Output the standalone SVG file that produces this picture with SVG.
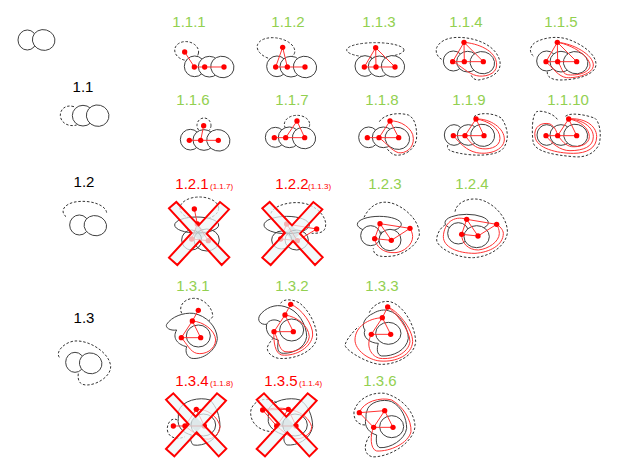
<svg xmlns="http://www.w3.org/2000/svg" width="623" height="467" viewBox="0 0 623 467">
<style>
text{font-family:"Liberation Sans",Arial,sans-serif;font-size:15px;text-anchor:middle}
.g{fill:#92d050}.k{fill:#000}.r{fill:#f00}
.s{font-size:8px;text-anchor:start;fill:#f00}
path,ellipse,line,polygon{vector-effect:non-scaling-stroke}
.b{fill:#fff;stroke:#404040;stroke-width:1}
.bn{fill:none;stroke:#404040;stroke-width:1}
.d{fill:none;stroke:#333;stroke-width:1;stroke-dasharray:2.5 1.8}
.e{fill:none;stroke:#f33;stroke-width:1}
.c{fill:#edf6f8;fill-opacity:.72;stroke:#f00;stroke-width:2;stroke-linejoin:miter}
.m{fill:#8fa3a8;fill-opacity:.2}
circle{fill:#f00}
</style>
<defs>
<g id="x1"><polygon class="c" points="387,130 409,111 476,181 540,111 567,133 500,206 568,277 545,300 479,228 412,300 387,278 455,204"/><polygon class="m" points="476,181 500,206 479,228 455,204"/></g>
</defs>
<g id="a0" transform="scale(.33333)"><ellipse class="b" cx="82" cy="120" rx="28" ry="30"/><ellipse class="b" cx="131" cy="120" rx="34" ry="31" transform="rotate(15 131 120)"/></g>
<g id="n1-1"><text class="k" x="83" y="92">1.1</text><g transform="scale(.33333)"><path class="d" d="M222,320C195,312 180,330 181,347C182,368 205,382 230,375"/><ellipse class="b" cx="249" cy="347" rx="32" ry="31"/><ellipse class="b" cx="293" cy="347" rx="34" ry="32" transform="rotate(15 293 347)"/></g></g>
<g id="n1-1-1"><text class="g" x="189" y="27">1.1.1</text><g transform="scale(.33333)"><ellipse class="d" cx="560" cy="153" rx="36" ry="28" transform="rotate(10 560 153)"/><ellipse class="b" cx="584" cy="199" rx="31" ry="31"/><ellipse class="b" cx="628" cy="200" rx="33" ry="31"/><ellipse class="b" cx="667" cy="201" rx="35" ry="32" transform="rotate(15 667 201)"/><path class="e" d="M554,156L583,201L672,201"/><circle cx="554" cy="156" r="8"/><circle cx="583" cy="201" r="8"/><circle cx="614" cy="201" r="8"/><circle cx="672" cy="201" r="8"/></g></g>
<g id="n1-1-2"><text class="g" x="288" y="27">1.1.2</text><g transform="scale(.33333)"><ellipse class="d" cx="828" cy="147" rx="57" ry="33" transform="rotate(10 828 147)"/><ellipse class="b" cx="831" cy="199" rx="31" ry="31"/><ellipse class="b" cx="873" cy="200" rx="33" ry="31"/><ellipse class="b" cx="915" cy="201" rx="35" ry="32" transform="rotate(15 915 201)"/><path class="e" d="M827,201L848,142L862,201M827,201L915,201"/><circle cx="848" cy="142" r="8"/><circle cx="827" cy="201" r="8"/><circle cx="862" cy="201" r="8"/><circle cx="915" cy="201" r="8"/></g></g>
<g id="n1-1-6"><text class="g" x="193" y="105">1.1.6</text><g transform="scale(.33333)"><ellipse class="d" cx="612" cy="376" rx="21" ry="22"/><ellipse class="b" cx="571" cy="419" rx="30" ry="31"/><ellipse class="b" cx="612" cy="420" rx="33" ry="31"/><ellipse class="b" cx="655" cy="421" rx="35" ry="32" transform="rotate(15 655 421)"/><path class="e" d="M611,377L602,421M568,421L655,421"/><circle cx="611" cy="377" r="8"/><circle cx="568" cy="421" r="8"/><circle cx="602" cy="421" r="8"/><circle cx="655" cy="421" r="8"/></g></g>
<g id="n1-1-7"><text class="g" x="292" y="105">1.1.7</text><g transform="scale(.33333)"><ellipse class="d" cx="891" cy="373" rx="38" ry="27"/><ellipse class="b" cx="826" cy="412" rx="30" ry="30"/><ellipse class="b" cx="868" cy="412" rx="33" ry="31"/><ellipse class="b" cx="912" cy="414" rx="35" ry="32" transform="rotate(15 912 414)"/><path class="e" d="M857,413L891,363L914,413M823,413L914,413"/><circle cx="891" cy="363" r="8"/><circle cx="823" cy="413" r="8"/><circle cx="857" cy="413" r="8"/><circle cx="914" cy="413" r="8"/></g></g>
<g id="n1-1-3"><text class="g" x="379" y="27">1.1.3</text><g transform="translate(320,0) scale(.33333)"><ellipse class="d" cx="166" cy="150" rx="86" ry="22"/><ellipse class="b" cx="135" cy="198" rx="30" ry="31"/><ellipse class="b" cx="178" cy="199" rx="33" ry="31"/><ellipse class="b" cx="219" cy="199" rx="35" ry="32" transform="rotate(15 219 199)"/><path class="e" d="M133,201L167,143L168,201M167,143L225,201L133,201"/><circle cx="167" cy="143" r="8"/><circle cx="133" cy="201" r="8"/><circle cx="168" cy="201" r="8"/><circle cx="225" cy="201" r="8"/></g></g>
<g id="n1-1-4"><text class="g" x="466" y="27">1.1.4</text><g transform="translate(320,0) scale(.33333)"><path class="d" d="M365,178C350,170 342,150 355,135C370,115 400,110 432,113C480,118 530,140 540,185C545,220 510,235 475,240C462,240 455,232 452,222"/><ellipse class="b" cx="400" cy="183" rx="30" ry="30"/><ellipse class="b" cx="443" cy="185" rx="33" ry="31"/><ellipse class="b" cx="487" cy="188" rx="37" ry="33" transform="rotate(15 487 188)"/><path class="e" d="M398,185L432,127L433,185M432,127L490,185L398,185M432,127C470,130 530,150 530,195C530,225 490,232 470,227C445,222 420,195 398,185"/><circle cx="432" cy="127" r="8"/><circle cx="398" cy="185" r="8"/><circle cx="433" cy="185" r="8"/><circle cx="490" cy="185" r="8"/></g></g>
<g id="n1-1-5"><text class="g" x="561" y="27">1.1.5</text><g transform="translate(320,0) scale(.33333)"><path class="d" d="M640,168C625,155 630,135 650,125C680,110 720,108 750,120C790,135 830,165 828,195C825,225 770,240 720,240C695,240 680,230 682,215"/><ellipse class="b" cx="680" cy="183" rx="30" ry="30"/><ellipse class="b" cx="723" cy="185" rx="33" ry="31"/><ellipse class="b" cx="767" cy="188" rx="37" ry="33" transform="rotate(15 767 188)"/><path class="e" d="M678,185L712,127L713,185M712,127L770,185L678,185M712,127C760,130 820,165 820,195C820,222 770,235 740,233C715,230 700,205 678,185M712,127C760,135 808,170 810,195C812,220 765,228 742,224C725,220 725,200 713,185"/><circle cx="712" cy="127" r="8"/><circle cx="678" cy="185" r="8"/><circle cx="713" cy="185" r="8"/><circle cx="770" cy="185" r="8"/></g></g>
<g id="n1-1-8"><text class="g" x="382" y="105">1.1.8</text><g transform="translate(320,0) scale(.33333)"><path class="d" d="M178,365C190,345 230,335 265,345C285,355 290,380 290,410C290,440 260,470 225,465C210,460 205,450 200,445"/><ellipse class="b" cx="146" cy="412" rx="30" ry="31"/><ellipse class="b" cx="190" cy="412" rx="33" ry="31"/><ellipse class="b" cx="232" cy="415" rx="37" ry="33" transform="rotate(15 232 415)"/><path class="e" d="M177,413L210,363L236,413L142,413M210,363C240,360 280,385 280,415C282,445 255,462 235,458C215,452 200,430 177,413"/><circle cx="210" cy="363" r="8"/><circle cx="142" cy="413" r="8"/><circle cx="177" cy="413" r="8"/><circle cx="236" cy="413" r="8"/></g></g>
<g id="n1-1-9"><text class="g" x="469" y="105">1.1.9</text><g transform="translate(320,0) scale(.33333)"><path class="d" d="M462,350C480,335 525,340 545,355C565,385 568,420 550,445C530,470 460,468 420,460C395,455 375,450 385,432"/><ellipse class="b" cx="402" cy="405" rx="29" ry="31"/><ellipse class="b" cx="445" cy="405" rx="33" ry="31"/><ellipse class="b" cx="488" cy="406" rx="36" ry="33" transform="rotate(15 488 406)"/><path class="e" d="M435,407L468,357L492,407L400,407M468,357C510,355 555,385 553,420C550,450 510,465 470,458C440,452 420,430 400,407M468,357C505,362 540,385 540,415C540,445 500,450 480,445C460,440 450,425 435,407"/><circle cx="468" cy="357" r="8"/><circle cx="400" cy="407" r="8"/><circle cx="435" cy="407" r="8"/><circle cx="492" cy="407" r="8"/></g></g>
<g id="n1-1-10"><text class="g" x="568" y="105">1.1.10</text><g transform="translate(320,0) scale(.33333)"><path class="d" d="M712,358C700,340 665,330 650,335C635,345 635,400 640,430C650,455 700,465 760,470C800,475 830,455 838,430C845,400 838,365 825,355C800,345 750,335 735,350"/><ellipse class="b" cx="680" cy="405" rx="29" ry="31"/><ellipse class="b" cx="723" cy="405" rx="33" ry="31"/><ellipse class="b" cx="767" cy="406" rx="36" ry="33" transform="rotate(15 767 406)"/><path class="e" d="M713,407L746,357L770,407L678,407M746,357C790,352 830,375 830,410C830,445 800,460 760,460C710,460 650,445 645,410C640,380 665,365 690,372C705,380 710,395 713,407M746,357C785,358 820,380 820,410C820,440 790,452 750,452C720,452 695,430 678,407M746,357C780,362 808,385 808,410C808,435 775,442 755,440C735,437 725,420 713,407"/><circle cx="746" cy="357" r="8"/><circle cx="678" cy="407" r="8"/><circle cx="713" cy="407" r="8"/><circle cx="770" cy="407" r="8"/></g></g>
<g id="n1-2"><text class="k" x="84" y="187">1.2</text><g transform="translate(40,165) scale(.33333)"><path class="d" d="M78,155C60,140 70,118 105,111C150,103 200,120 200,145"/><ellipse class="b" cx="118" cy="180" rx="29" ry="30"/><ellipse class="b" cx="166" cy="182" rx="34" ry="30" transform="rotate(15 166 182)"/></g></g>
<g id="n1-2-1"><text class="r" x="192" y="189">1.2.1</text><text class="s" x="210" y="189">(1.1.7)</text><g transform="translate(40,165) scale(.33333)"><ellipse class="d" cx="478" cy="130" rx="58" ry="34"/><ellipse class="b" cx="470" cy="180" rx="66" ry="24"/><ellipse class="bn" cx="455" cy="225" rx="30" ry="30"/><ellipse class="bn" cx="500" cy="225" rx="38" ry="33"/><path class="e" d="M463,132L472,177L455,222L505,227L472,177"/><circle cx="463" cy="132" r="8"/><circle cx="472" cy="177" r="8"/><circle cx="455" cy="222" r="8"/><circle cx="505" cy="227" r="8"/><use href="#x1"/></g></g>
<g id="n1-2-2"><text class="r" x="292" y="189">1.2.2</text><text class="s" x="308" y="189">(1.1.3)</text><g transform="translate(40,165) scale(.33333)"><path class="d" d="M693,145C700,120 760,105 800,117C840,130 865,165 855,190C850,205 830,205 815,205"/><ellipse class="b" cx="740" cy="180" rx="68" ry="26"/><ellipse class="bn" cx="725" cy="225" rx="30" ry="27"/><ellipse class="bn" cx="770" cy="225" rx="35" ry="30"/><path class="e" d="M830,192L740,177L722,222L772,227L740,177M772,227L830,192"/><circle cx="830" cy="192" r="8"/><circle cx="740" cy="177" r="8"/><circle cx="722" cy="222" r="8"/><circle cx="772" cy="227" r="8"/><use href="#x1" transform="translate(280,0)"/></g></g>
<g id="n1-2-3"><text class="g" x="385" y="189">1.2.3</text><g transform="translate(340,165) scale(.33333)"><path class="d" d="M72,157C85,130 110,105 150,113C190,122 240,165 238,210C230,240 200,262 165,272C125,278 100,275 100,250"/><ellipse class="b" cx="118" cy="178" rx="66" ry="24"/><ellipse class="b" cx="92" cy="212" rx="30" ry="30"/><ellipse class="b" cx="150" cy="225" rx="33" ry="32"/><path class="e" d="M210,190L120,176L104,221L154,226L120,176M154,226L210,190M104,221C108,245 130,265 165,263C190,262 218,240 218,215C218,205 213,195 210,190"/><circle cx="120" cy="176" r="8"/><circle cx="210" cy="190" r="8"/><circle cx="104" cy="221" r="8"/><circle cx="154" cy="226" r="8"/></g></g>
<g id="n1-2-4"><text class="g" x="472" y="189">1.2.4</text><g transform="translate(340,165) scale(.33333)"><path class="d" d="M345,140C350,110 390,95 425,105C470,120 505,165 502,205C495,245 450,275 400,278C345,280 290,245 290,225C290,200 310,180 320,178"/><ellipse class="b" cx="380" cy="173" rx="65" ry="25"/><ellipse class="b" cx="355" cy="205" rx="32" ry="32"/><ellipse class="b" cx="410" cy="215" rx="38" ry="33"/><path class="e" d="M470,178L380,163L365,208L414,213L380,163M414,213L470,178M380,163C340,150 312,175 310,215C310,245 350,265 405,265C450,262 490,240 490,205C490,195 478,182 470,178M365,208C365,235 385,255 415,255C445,252 478,230 478,205C478,195 474,185 470,178"/><circle cx="380" cy="163" r="8"/><circle cx="470" cy="178" r="8"/><circle cx="365" cy="208" r="8"/><circle cx="414" cy="213" r="8"/></g></g>
<g id="n1-3"><text class="k" x="84" y="323">1.3</text><g transform="translate(40,275) scale(.33333)"><path class="d" d="M58,247C45,230 75,200 105,198C150,195 210,235 212,275C212,305 170,330 140,330C118,330 112,315 115,295"/><ellipse class="b" cx="105" cy="262" rx="28" ry="30"/><ellipse class="b" cx="152" cy="265" rx="34" ry="31" transform="rotate(15 152 265)"/></g></g>
<g id="n1-3-1"><text class="g" x="193" y="291">1.3.1</text><g transform="translate(40,275) scale(.33333)"><path class="d" d="M425,115C415,95 430,72 460,70C490,68 520,100 518,125C515,130 510,135 505,138"/><path class="b" d="M410,165C390,168 375,158 380,148C395,125 430,112 460,115C500,122 530,155 532,190C530,225 490,255 455,250C440,245 435,230 440,215C415,210 395,190 410,165Z"/><ellipse class="b" cx="475" cy="183" rx="36" ry="33"/><path class="e" d="M475,106L457,138L424,188L482,188L457,138M457,138C490,140 525,165 527,195C525,225 495,240 470,235C450,230 440,205 424,188"/><circle cx="475" cy="106" r="8"/><circle cx="457" cy="138" r="8"/><circle cx="424" cy="188" r="8"/><circle cx="482" cy="188" r="8"/></g></g>
<g id="n1-3-2"><text class="g" x="292" y="291">1.3.2</text><g transform="translate(240,275) scale(.33333)"><path class="d" d="M122,85C130,70 160,72 180,85C210,110 232,155 230,190C225,225 170,255 115,250C90,245 75,225 85,210C90,200 100,190 103,185"/><path class="b" d="M80,148C60,150 50,135 60,120C75,100 105,85 135,95C175,105 200,150 200,185C195,220 160,235 130,235C110,235 112,215 115,195C90,190 75,170 80,148Z"/><path class="bn" d="M80,148C85,135 105,130 120,140"/><ellipse class="b" cx="155" cy="165" rx="36" ry="33"/><path class="e" d="M152,88L135,120L102,170L160,170L135,120M152,88C185,100 220,150 218,180C215,215 170,245 125,240C105,235 100,200 102,170M135,120C170,125 205,150 208,185C205,215 165,235 135,230C115,225 115,190 102,170"/><circle cx="152" cy="88" r="8"/><circle cx="135" cy="120" r="8"/><circle cx="102" cy="170" r="8"/><circle cx="160" cy="170" r="8"/></g></g>
<g id="n1-3-3"><text class="g" x="382" y="291">1.3.3</text><g transform="translate(240,275) scale(.33333)"><path class="d" d="M388,113C395,95 420,75 450,80C490,90 525,150 527,200C525,240 470,270 420,268C380,265 315,225 315,210C320,190 345,165 355,155"/><path class="b" d="M375,165C362,150 375,125 400,115C415,105 435,103 445,107C480,115 505,160 505,190C500,225 460,245 425,243C410,240 410,220 415,205C390,205 365,185 375,165Z"/><ellipse class="b" cx="445" cy="175" rx="38" ry="33"/><path class="e" d="M443,96L427,128L394,178L452,178L427,128M443,96C470,105 518,160 518,200C515,240 470,262 420,258C385,255 345,225 345,195C345,155 385,130 427,128M443,96C465,110 510,165 510,200C505,235 460,255 420,250C395,245 375,215 394,178"/><circle cx="443" cy="96" r="8"/><circle cx="427" cy="128" r="8"/><circle cx="394" cy="178" r="8"/><circle cx="452" cy="178" r="8"/></g></g>
<g id="n1-3-4"><text class="r" x="192" y="386">1.3.4</text><text class="s" x="210" y="386">(1.1.8)</text><g transform="translate(150,370) scale(.33333)"><path class="d" d="M82,150C65,140 50,160 52,180C55,205 85,210 105,200"/><path class="bn" d="M85,125C95,90 150,80 180,90C200,110 210,140 210,170C205,210 160,230 130,225C120,215 120,200 125,195C100,190 80,170 85,145Z"/><ellipse class="bn" cx="160" cy="165" rx="37" ry="33"/><path class="e" d="M105,168L139,118L163,168L70,168M139,118C170,115 205,140 210,170C210,195 180,215 160,205C140,195 120,180 105,168"/><circle cx="139" cy="118" r="8"/><circle cx="70" cy="168" r="8"/><circle cx="105" cy="168" r="8"/><circle cx="163" cy="168" r="8"/><use href="#x1" transform="translate(-339,-41)"/></g></g>
<g id="n1-3-5"><text class="r" x="281" y="386">1.3.5</text><text class="s" x="299" y="386">(1.1.4)</text><g transform="translate(150,370) scale(.33333)"><path class="d" d="M380,98C345,75 305,95 302,125C300,160 330,185 370,185"/><path class="bn" d="M355,120C365,90 420,80 450,90C475,105 488,140 488,170C480,210 440,228 410,225C400,215 400,205 405,195C380,190 350,170 355,145Z"/><ellipse class="bn" cx="435" cy="165" rx="37" ry="33"/><path class="e" d="M380,168L338,120L415,118L380,168L438,168L415,118M338,120C400,105 470,120 485,170C485,195 450,212 430,205C410,195 395,180 380,168"/><circle cx="338" cy="120" r="8"/><circle cx="415" cy="118" r="8"/><circle cx="380" cy="168" r="8"/><circle cx="438" cy="168" r="8"/><use href="#x1" transform="translate(-67,-41)"/></g></g>
<g id="n1-3-6"><text class="g" x="380" y="386">1.3.6</text><g transform="translate(150,370) scale(.33333)"><path class="d" d="M645,165C625,165 610,150 612,125C620,90 660,65 705,70C760,85 795,130 795,170C790,215 730,255 680,260C655,265 640,245 648,220C652,205 660,195 666,190"/><path class="b" d="M650,125C655,95 700,85 725,95C755,110 770,145 770,175C765,210 720,235 690,233C678,230 678,210 680,195C660,190 640,170 648,145C648,135 648,130 650,125Z"/><ellipse class="b" cx="725" cy="170" rx="36" ry="33"/><path class="e" d="M671,172L628,128L704,122L671,172L729,172L704,122M628,128C640,95 690,80 725,90C760,110 785,150 783,185C775,220 720,245 680,243C660,238 660,195 671,172"/><circle cx="628" cy="128" r="8"/><circle cx="704" cy="122" r="8"/><circle cx="671" cy="172" r="8"/><circle cx="729" cy="172" r="8"/></g></g>
</svg>
